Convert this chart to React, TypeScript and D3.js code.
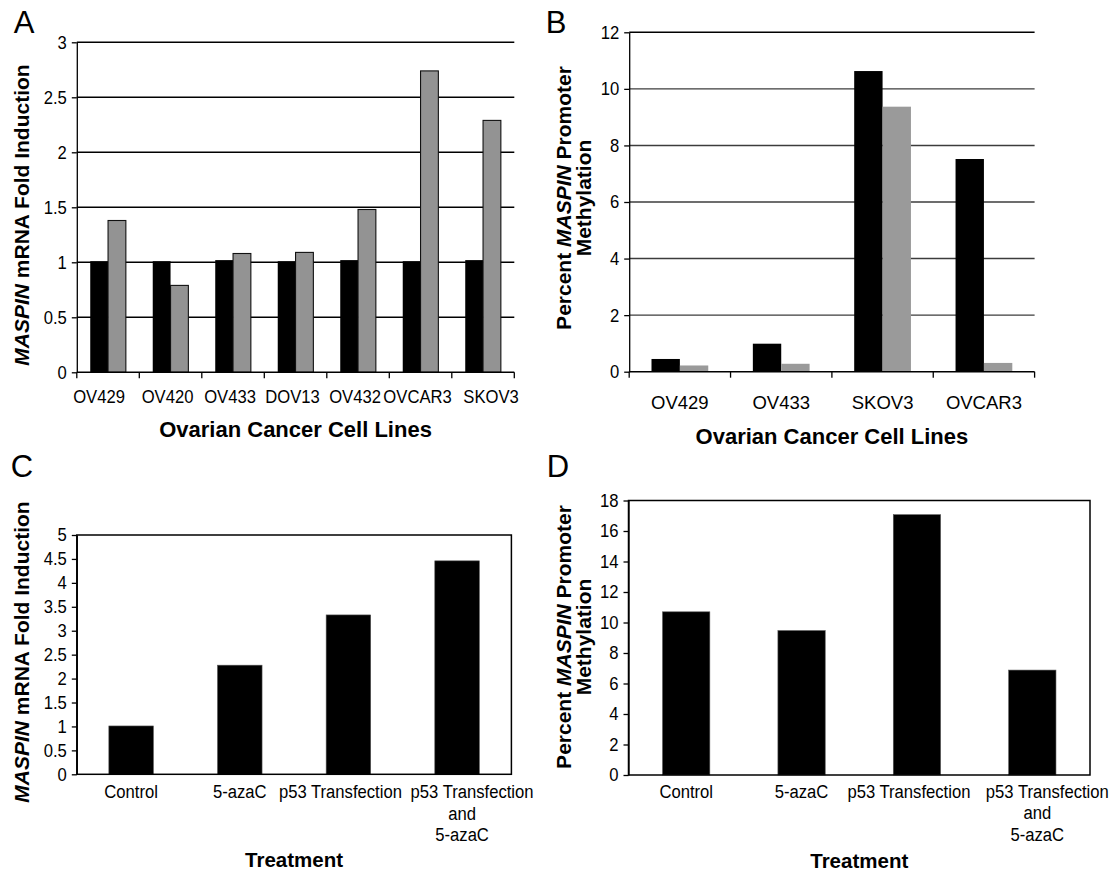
import React, { useEffect, useRef } from 'react';
import * as d3 from 'd3';

// panel A: MASPIN mRNA fold induction per cell line (black = untreated, grey = 5-azaC)
const cellLinesA = ['OV429', 'OV420', 'OV433', 'DOV13', 'OV432', 'OVCAR3', 'SKOV3'];
const foldBlackA = [1.01, 1.01, 1.02, 1.01, 1.02, 1.01, 1.02];
const foldGreyA = [1.38, 0.79, 1.08, 1.09, 1.48, 2.74, 2.29];
const ticksA = [0, 0.5, 1, 1.5, 2, 2.5, 3];

// panel B: percent promoter methylation per cell line
const cellLinesB = ['OV429', 'OV433', 'SKOV3', 'OVCAR3'];
const methBlackB = [0.45, 0.99, 10.63, 7.52];
const methGreyB = [0.22, 0.28, 9.37, 0.31];
const ticksB = [0, 2, 4, 6, 8, 10, 12];

// panels C and D: treatments
const treatments = [['Control'], ['5-azaC'], ['p53 Transfection'], ['p53 Transfection', 'and', '5-azaC']];
const foldC = [1.01, 2.28, 3.33, 4.46];
const ticksC = [0, 0.5, 1, 1.5, 2, 2.5, 3, 3.5, 4, 4.5, 5];
const methD = [10.7, 9.47, 17.07, 6.88];
const ticksD = [0, 2, 4, 6, 8, 10, 12, 14, 16, 18];

const FONT = '"Liberation Sans", Arial, Helvetica, sans-serif';
const SQUEEZE = 0.9; // the plain labels in the figure are slightly condensed

const App = () => {
  const svgRef = useRef(null);

  useEffect(() => {
    const svg = d3.select(svgRef.current);
    svg.selectAll('*').remove();
    svg.style('font-family', FONT);

    // condensed text: position with translate, then squeeze horizontally
    const label = (g, x, y, s, size = 18.5) =>
      g.append('text')
        .attr('transform', `translate(${x},${y}) scale(${SQUEEZE},1)`)
        .attr('text-anchor', 'middle')
        .style('font-size', `${size}px`)
        .text(s);

    const yAxis = (g, y, ticks, x0) => {
      const gap = 10;
      g.append('g')
        .attr('transform', `translate(${x0},0)`)
        .call(d3.axisLeft(y).tickValues(ticks).tickSize(5).tickSizeOuter(0).tickPadding(5).tickFormat(d3.format('')))
        .call((a) => a.select('.domain').attr('stroke', '#000').attr('stroke-width', 1.3))
        .call((a) => a.selectAll('.tick line').attr('stroke', '#000').attr('stroke-width', 1.3))
        .call((a) =>
          a.selectAll('text')
            .attr('fill', '#000')
            .attr('x', null)
            .attr('transform', `translate(${-gap},0) scale(${SQUEEZE},1)`)
            .style('font-size', '18.5px')
            .style('font-family', FONT));
    };

    const yTitle = (lines, cx, cy) => {
      lines.forEach((parts, i) => {
        const t = svg
          .append('text')
          .attr('transform', `translate(${cx[i]},${cy}) rotate(-90)`)
          .attr('text-anchor', 'middle')
          .attr('dy', '0.35em')
          .style('font-size', '21px')
          .style('font-weight', 'bold');
        parts.forEach((p) => {
          t.append('tspan').style('font-style', p.italic ? 'italic' : 'normal').text(p.text);
        });
      });
    };

    const letter = (s, x, y) => {
      svg.append('text').attr('x', x).attr('y', y).attr('dy', '0.35em').attr('text-anchor', 'middle')
        .style('font-size', '31px').text(s);
    };

    // grouped bars with gridlines (A and B)
    const grouped = (opts) => {
      const { cats, black, grey, ticks, x0, x1, yTop, yZero, frac, gridColor, greyStroke, labelY, labelSize, title, titleY } = opts;
      const g = svg.append('g');
      const y = d3.scaleLinear().domain([0, d3.max(ticks)]).range([yZero, yTop]);
      const cat = d3.scaleBand().domain(cats).range([x0, x1]).padding(0);
      const pad = (cat.bandwidth() * (1 - frac)) / 2;
      const sub = d3.scaleBand().domain(['black', 'grey']).range([pad, cat.bandwidth() - pad]);

      g.selectAll('line.grid')
        .data(ticks.filter((t) => t > 0))
        .enter()
        .append('line')
        .attr('x1', x0)
        .attr('x2', x1)
        .attr('y1', (d) => y(d))
        .attr('y2', (d) => y(d))
        .attr('stroke', (d, i, a) => (i === a.length - 1 ? '#000' : gridColor))
        .attr('stroke-width', 1.4);

      cats.forEach((c, i) => {
        g.append('rect')
          .attr('x', cat(c) + sub('black'))
          .attr('y', y(black[i]))
          .attr('width', sub.bandwidth())
          .attr('height', yZero - y(black[i]))
          .attr('fill', '#000');
        g.append('rect')
          .attr('x', cat(c) + sub('grey'))
          .attr('y', y(grey[i]))
          .attr('width', sub.bandwidth())
          .attr('height', yZero - y(grey[i]))
          .attr('fill', greyStroke ? '#939393' : '#9a9a9a')
          .attr('stroke', greyStroke ? '#111' : 'none')
          .attr('stroke-width', 1.1);
      });

      // x axis with ticks on the category boundaries
      g.append('line').attr('x1', x0).attr('x2', x1).attr('y1', yZero).attr('y2', yZero).attr('stroke', '#000').attr('stroke-width', 1.4);
      const bounds = cats.map((c) => cat(c)).concat([x1]);
      g.selectAll('line.xt')
        .data(bounds)
        .enter()
        .append('line')
        .attr('x1', (d) => d)
        .attr('x2', (d) => d)
        .attr('y1', yZero)
        .attr('y2', yZero + 6)
        .attr('stroke', '#000')
        .attr('stroke-width', 1.3);

      cats.forEach((c, i) => {
        const cx = cat(c) + cat.bandwidth() / 2;
        if (labelSize) {
          g.append('text')
            .attr('x', cx)
            .attr('y', labelY)
            .attr('text-anchor', 'middle')
            .style('font-size', `${labelSize}px`)
            .text(c);
        } else {
          // crowded labels: ends pushed outward, the rest slightly left
          const shift = i === 0 ? -9 : i === cats.length - 1 ? 8 : -3;
          label(g, cx + shift, labelY, c);
        }
      });

      yAxis(g, y, ticks, x0);

      svg.append('text').attr('x', (x0 + x1) / 2).attr('y', titleY).attr('text-anchor', 'middle')
        .style('font-size', '22px').style('font-weight', 'bold').text(title);
    };

    // single bars in a framed box (C and D)
    const framed = (opts) => {
      const { values, ticks, x0, x1, yTop, yZero, labelY, titleY } = opts;
      const g = svg.append('g');
      const names = treatments.map((t) => t.join(' '));
      const y = d3.scaleLinear().domain([0, d3.max(ticks)]).range([yZero, yTop]);
      const x = d3.scaleBand().domain(names).range([x0, x1]).paddingInner(0.59).paddingOuter(0.295);

      g.selectAll('rect.bar')
        .data(values)
        .enter()
        .append('rect')
        .attr('x', (d, i) => x(names[i]))
        .attr('y', (d) => y(d))
        .attr('width', x.bandwidth())
        .attr('height', (d) => yZero - y(d))
        .attr('fill', '#000')
        .attr('stroke', '#555')
        .attr('stroke-width', 0.6);

      g.append('rect').attr('x', x0).attr('y', yTop).attr('width', x1 - x0).attr('height', yZero - yTop)
        .attr('fill', 'none').attr('stroke', '#000').attr('stroke-width', 1.5);

      yAxis(g, y, ticks, x0);

      // the long labels collide, so the last two are nudged apart
      treatments.forEach((lines, i) => {
        const cx = x(names[i]) + x.bandwidth() / 2;
        const nudge = i === treatments.length - 2 ? -8 : 0;
        lines.forEach((line, j) => {
          const shift = i === treatments.length - 1 ? (j === 0 ? 15 : 5) : nudge;
          label(g, cx + shift, labelY + j * 21.5, line, 18.5);
        });
      });

      svg.append('text').attr('x', (x0 + x1) / 2).attr('y', titleY).attr('text-anchor', 'middle')
        .style('font-size', '20.5px').style('font-weight', 'bold').text('Treatment');
    };

    grouped({
      cats: cellLinesA, black: foldBlackA, grey: foldGreyA, ticks: ticksA,
      x0: 76.8, x1: 514.3, yTop: 42.3, yZero: 372.3, frac: 0.57,
      gridColor: '#000', greyStroke: true, labelY: 403, labelSize: 0,
      title: 'Ovarian Cancer Cell Lines', titleY: 437,
    });
    grouped({
      cats: cellLinesB, black: methBlackB, grey: methGreyB, ticks: ticksB,
      x0: 629.2, x1: 1034.6, yTop: 32.3, yZero: 371.7, frac: 0.56,
      gridColor: '#3c3c3c', greyStroke: false, labelY: 408.5, labelSize: 18.5,
      title: 'Ovarian Cancer Cell Lines', titleY: 444,
    });
    framed({ values: foldC, ticks: ticksC, x0: 76.8, x1: 511.4, yTop: 535, yZero: 774.3, labelY: 798, titleY: 867 });
    framed({ values: methD, ticks: ticksD, x0: 628.5, x1: 1090, yTop: 500.5, yZero: 775, labelY: 797.5, titleY: 868 });

    const maspin = [{ text: 'MASPIN', italic: true }, { text: ' mRNA Fold Induction' }];
    const percent = [{ text: 'Percent ' }, { text: 'MASPIN', italic: true }, { text: ' Promoter' }];
    const methyl = [{ text: 'Methylation' }];
    yTitle([maspin], [21.5], 215);
    yTitle([percent, methyl], [564, 583.6], 198);
    yTitle([maspin], [21.5], 652);
    yTitle([percent, methyl], [564, 583.6], 637);

    letter('A', 24, 22.5);
    letter('B', 556, 22.5);
    letter('C', 22, 466);
    letter('D', 558, 466);
  }, []);

  return <svg ref={svgRef} width={1116} height={875} style={{ position: 'absolute', left: 0, top: 0, background: '#fff' }}></svg>;
};

export default App;
